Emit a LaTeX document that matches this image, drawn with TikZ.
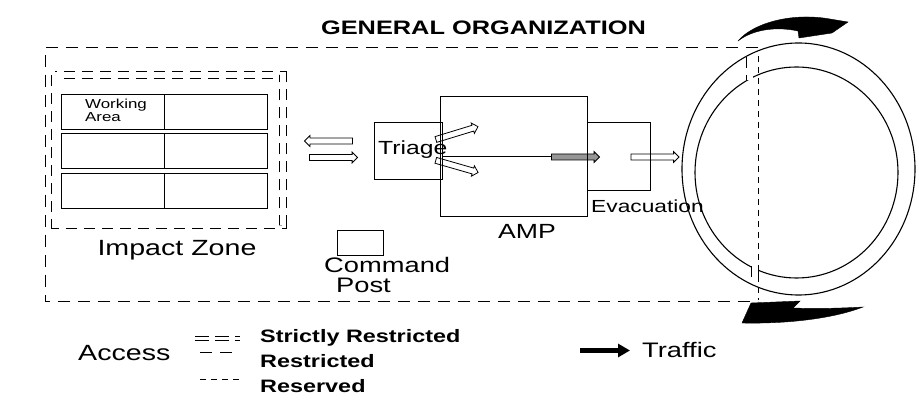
\documentclass[tikz,border=0pt]{standalone}
\usepackage{fontspec}
\setmainfont{Liberation Sans}[FakeStretch=1.3]
\usetikzlibrary{arrows.meta,shapes.arrows}
\definecolor{shaftgray}{RGB}{150,150,150}
\tikzset{
  box/.style={draw=black, line width=1pt, inner sep=0pt},
  cell/.style={box, minimum width=103pt, minimum height=35pt},
  restricted/.style={line width=1pt, dash pattern=on 12pt off 8pt},
  reserved/.style={line width=1pt, dash pattern=on 6pt off 5pt},
  strictly/.style={double, double distance=6pt, line width=0.9pt,
                   dash pattern=on 11pt off 7pt},
  ring/.style={line width=1.1pt},
  hollow/.style={single arrow, draw=black, fill=white, line width=0.8pt,
                 minimum height=48pt, inner xsep=0pt, inner ysep=2.6pt,
                 single arrow head extend=2.4pt},
  swoosh/.style={fill=black, draw=black, line width=0.4pt},
  trafficarrow/.style={line width=5pt, -{Triangle[length=12pt,width=13pt]}},
  lab/.style={inner sep=0pt},
  title/.style={lab, font=\fontsize{19.5}{22}\selectfont\bfseries},
  biglab/.style={lab, font=\fontsize{22}{24}\selectfont},
  midlab/.style={lab, font=\fontsize{19}{20}\selectfont},
  leglab/.style={lab, font=\fontsize{18}{20}\selectfont\bfseries},
  smalllab/.style={lab, font=\fontsize{13}{13}\selectfont, align=left},
}
\begin{document}
\begin{tikzpicture}[x=1pt,y=-1pt]
  \useasboundingbox (0,0) rectangle (919,403);

  \node[title, anchor=base] (title) at (483.5,35) {GENERAL ORGANIZATION};

  % restricted outer area, closed by the ring road
  \draw[restricted] (758,48) -- (45,48) -- (45,302) -- (758,302);
  \draw[reserved] (758,56) -- (758,300);
  \draw[ring] (798.5,169) ellipse [x radius=116.5, y radius=126];
  \draw[ring] (796.5,172.5) ellipse [x radius=101.5, y radius=105.5];
  \draw[strictly, double distance=6pt] (749.5,57) -- (749.5,80);
  \draw[strictly, double distance=6pt] (755,266) -- (755,282);

  % traffic on the ring
  \path[swoosh] (738,41) .. controls (752,24) and (790,12) .. (830,19)
    -- (848,22) -- (832,33) -- (799,38) -- (798,31)
    .. controls (775,26) and (752,30) .. cycle;
  \path[swoosh] (742,323) -- (751,303) -- (800,301) -- (793,308)
    .. controls (820,309) and (845,308) .. (863,307)
    .. controls (835,318) and (790,324) .. cycle;

  % impact zone and its working areas
  \draw[strictly] (54.5,75) rectangle (283,225.5);
  \foreach \r/\y in {1/112,2/151.5,3/191.5}{
    \node[cell] (w\r a) at (112.5,\y) {};
    \node[cell] (w\r b) at (215.5,\y) {};
  }
  \node[smalllab, anchor=base west] (working) at (85,122) {Working\\Area};
  \node[biglab, anchor=base] (impact) at (177,256) {Impact Zone};

  % patient flow
  \node[hollow, rotate=180] (inL) at (330,141) {};
  \node[hollow] (inR) at (332,157.5) {};
  \node[hollow, minimum height=44pt, rotate=17] (toUp) at (455.5,133.5) {};
  \node[hollow, minimum height=44pt, rotate=-16] (toDown) at (455.5,166) {};
  \node[hollow, fill=shaftgray] (toEvac) at (574,157) {};
  \node[hollow] (toRing) at (653.5,157) {};

  \node[box, minimum width=147pt, minimum height=120pt] (amp) at (513.5,157) {};
  \node[box, minimum width=68pt, minimum height=57pt] (triage) at (408,151.5) {};
  \node[box, minimum width=63pt, minimum height=68pt] (evac) at (618.5,157) {};
  \node[box, minimum width=46pt, minimum height=25pt] (cmd) at (360,243.5) {};
  \draw[line width=1pt] (triage.east |- toEvac.west) -- (toEvac.west);

  \node[midlab, anchor=base west] (triagelab) at (378,155) {Triage};
  \node[biglab, font=\fontsize{20.5}{22}\selectfont, anchor=base] (amplab) at (527,239) {AMP};
  \node[midlab, font=\fontsize{17.5}{20}\selectfont, anchor=base west] (evaclab) at (591,213) {Evacuation};
  \node[lab, font=\fontsize{21}{20}\selectfont, align=left, anchor=base west] (cmdlab) at (324,293)
    {Command\\\hspace*{12pt}Post};

  % legend
  \node[biglab, anchor=base west] (access) at (78,361) {Access};
  \node[leglab, anchor=base west] (strictlab) at (260,343) {Strictly Restricted};
  \node[leglab, anchor=base west] (restrlab) at (260,368) {Restricted};
  \node[leglab, anchor=base west] (reservlab) at (260,393) {Reserved};
  \draw[strictly, double distance=3.5pt, line width=0.8pt, dash pattern=on 14pt off 6pt]
    (195,338.5) -- (240,338.5);
  \draw[restricted, line width=0.9pt] (200,352.5) -- (232,352.5);
  \draw[reserved, line width=0.9pt] (200,379.5) -- (240,379.5);

  \node[lab, font=\fontsize{21}{22}\selectfont, anchor=base west] (traffic) at (642,358) {Traffic};
  \coordinate (traffictail) at ([xshift=-62pt]traffic.west);
  \draw[trafficarrow] (traffictail) -- ([xshift=-12pt]traffic.west);
\end{tikzpicture}
\end{document}
